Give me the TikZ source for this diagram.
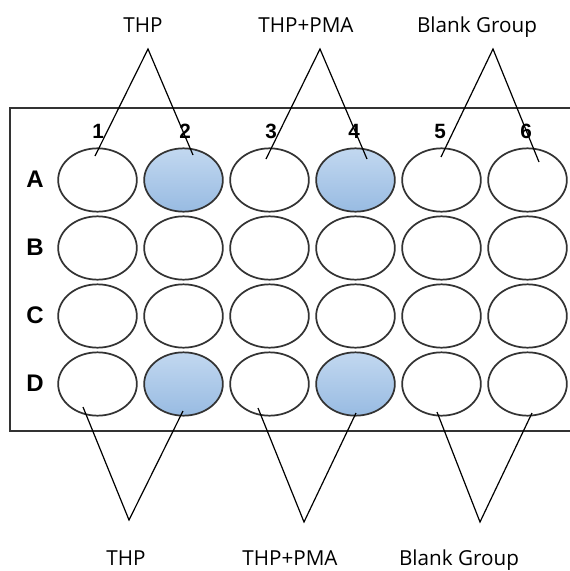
\documentclass[tikz,border=0pt]{standalone}
\usepackage{fontspec}
\setmainfont{Open Sans}
\setsansfont{Liberation Sans}
\usetikzlibrary{shapes.geometric,calc}
\definecolor{wtop}{HTML}{C2D8F0}
\definecolor{wbot}{HTML}{98BBE2}
\definecolor{edge}{HTML}{333333}
\begin{document}
\begin{tikzpicture}[x=0.75pt,y=-0.75pt,
  well/.style={ellipse,draw=edge,line width=1.3pt,minimum width=59pt,minimum height=47.5pt,inner sep=0pt},
  bluewell/.style={top color=wtop,bottom color=wbot},
  plate/.style={draw=edge,line width=1.4pt},
  conn/.style={draw=black,line width=0.9pt},
  rowlab/.style={font=\sffamily\bfseries\fontsize{18}{20}\selectfont,inner sep=0pt},
  collab/.style={font=\sffamily\bfseries\fontsize{15.5}{17}\selectfont,inner sep=0pt,anchor=base},
  grplab/.style={font=\fontsize{15.5}{18}\selectfont,inner sep=0pt,anchor=base}]
\useasboundingbox (0,0) rectangle (570,571);
\clip (0,0) rectangle (570,571);
% plate
\draw[plate] (10,108) rectangle (585,431);
% wells
\foreach \r/\y in {B/248,C/316}
  \foreach \c in {1,...,6}
    \node[well] (\r\c) at ({97.5+86*(\c-1)},\y) {};
\foreach \r/\y in {A/180,D/384}{
  \foreach \c in {1,3,5,6}
    \node[well] (\r\c) at ({97.5+86*(\c-1)},\y) {};
  \foreach \c in {2,4}
    \node[well,bluewell] (\r\c) at ({97.5+86*(\c-1)},\y) {};
}
% row labels
\node[rowlab] (lA) at (35,179) {A};
\node[rowlab] (lB) at (35,247) {B};
\node[rowlab] (lC) at (35,315) {C};
\node[rowlab] (lD) at (35,383) {D};
% column labels
\foreach \c/\x in {1/98,2/185,3/271,4/354,5/440,6/526}
  \node[collab] (n\c) at (\x,138.5) {\c};
% group labels
\node[grplab] (t1) at (143,32) {THP};
\node[grplab] (t2) at (306,32) {THP+PMA};
\node[grplab] (t3) at (477,32) {Blank Group};
\node[grplab] (b1) at (126,565) {THP};
\node[grplab] (b2) at (290,565) {THP+PMA};
\node[grplab] (b3) at (459,565) {Blank Group};
% apex points
\coordinate (ta1) at (148,49);
\coordinate (ta2) at (320,49);
\coordinate (ta3) at (493,49);
\coordinate (ba1) at (129,520);
\coordinate (ba2) at (304,522);
\coordinate (ba3) at (480,522);
% connectors
\draw[conn] ($(A1)+(-2.5,-24)$) -- (ta1) -- ($(A2)+(9.5,-25)$);
\draw[conn] ($(A3)+(-3.5,-21)$) -- (ta2) -- ($(A4)+(11.5,-21)$);
\draw[conn] ($(A5)+(-0.5,-23)$) -- (ta3) -- ($(A6)+(11.5,-18)$);
\draw[conn] ($(D1)+(-14.5,23)$) -- (ba1) -- ($(D2)+(-0.5,27)$);
\draw[conn] ($(D3)+(-11.5,24)$) -- (ba2) -- ($(D4)+(0.5,29)$);
\draw[conn] ($(D5)+(-4.5,28)$) -- (ba3) -- ($(D6)+(4.5,29)$);
\end{tikzpicture}
\end{document}
